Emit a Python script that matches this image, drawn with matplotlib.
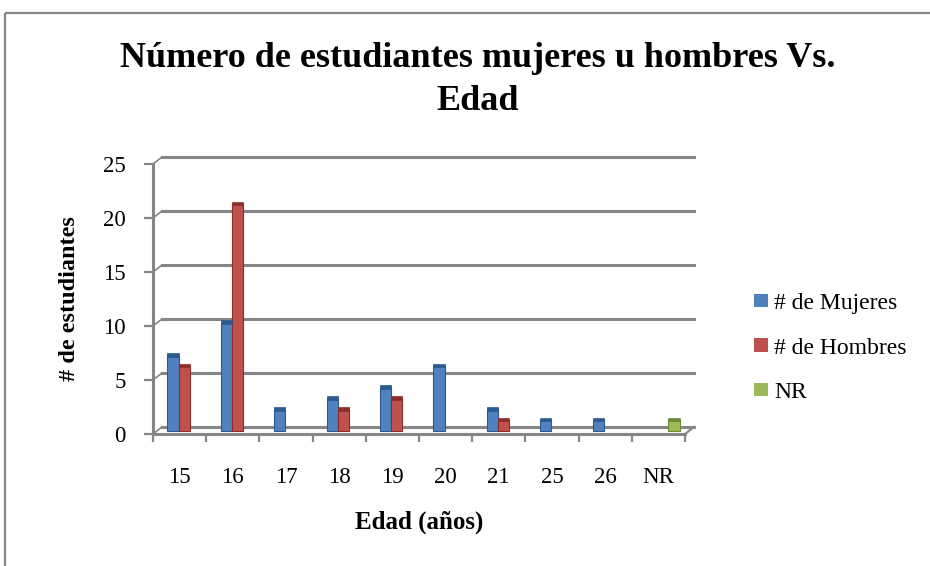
import matplotlib.pyplot as plt
from matplotlib.patches import Rectangle, Patch
import numpy as np

plt.rcParams['font.family'] = ['Liberation Serif', 'DejaVu Serif']

# datos de la encuesta
edades = ['15', '16', '17', '18', '19', '20', '21', '25', '26', 'NR']
mujeres = [7, 10, 2, 3, 4, 6, 2, 1, 1, 0]
hombres = [6, 21, 0, 2, 3, 0, 1, 0, 0, 0]
no_resp = [0, 0, 0, 0, 0, 0, 0, 0, 0, 1]

series = [('# de Mujeres', mujeres, '#4F81BD', '#2C5A8E'),
          ('# de Hombres', hombres, '#C0504D', '#8C2D2A'),
          ('NR', no_resp, '#9BBB59', '#6E8A36')]

W, H = 930, 566
fig = plt.figure(figsize=(W / 100, H / 100), dpi=100)

# marco del grafico
fig.patches.append(Rectangle((5 / W, 1 - 13 / H), 1.0, -1.0, transform=fig.transFigure,
                             fill=False, edgecolor='#868686', linewidth=1.6))

# eje frontal en pixeles: x 153..685, y 164..434
ax = fig.add_axes([153 / W, 1 - 434 / H, 532 / W, 270 / H])
ax.set_xlim(0, 10)
ax.set_ylim(0, 25)
ax.patch.set_alpha(0)
gris = '#868686'

# profundidad de la pared del fondo, en unidades de datos
dx = 9 / 532 * 10
dy = 7 / 270 * 25

for v in range(0, 26, 5):
    ax.plot([dx, 10 + dx], [v + dy, v + dy], color=gris, lw=2.2, clip_on=False, zorder=1)
    ax.plot([0, dx], [v, v + dy], color=gris, lw=1.2, clip_on=False, zorder=1)
ax.plot([10, 10 + dx], [0, dy], color=gris, lw=1.6, clip_on=False, zorder=1)

# barras a media profundidad
n = len(edades)
ancho = 0.21
x0 = np.arange(n) + (1 - 3 * ancho) / 2 + dx / 2
for k, (nombre, vals, color, oscuro) in enumerate(series):
    vals = np.array(vals)
    xs = x0 + k * ancho
    m = vals > 0
    ax.bar(xs[m], vals[m], width=ancho, bottom=dy / 2, align='edge',
           color=color, edgecolor=oscuro, linewidth=0.8, zorder=3)
    # tapa superior
    ax.bar(xs[m], np.full(m.sum(), 0.35), width=ancho, bottom=vals[m] + dy / 2 - 0.15,
           align='edge', color=oscuro, edgecolor=oscuro, linewidth=0.5, zorder=4)

for s in ['top', 'right']:
    ax.spines[s].set_visible(False)
for s in ['left', 'bottom']:
    ax.spines[s].set_color(gris)
    ax.spines[s].set_linewidth(2.2)

ax.set_yticks(range(0, 26, 5))
ax.tick_params(axis='y', length=6.5, width=1.6, color=gris, pad=13, labelsize=16.5)
ax.set_xticks(range(0, 11))
ax.set_xticklabels([])
ax.tick_params(axis='x', which='major', length=6, width=1.6, color=gris)
ax.set_xticks(np.arange(n) + 0.5, minor=True)
ax.set_xticklabels(edades, minor=True)
ax.tick_params(axis='x', which='minor', length=0, pad=24, labelsize=16.5)

ax.set_xlabel('Edad (años)', fontsize=18, fontweight='bold', labelpad=16)
ax.set_ylabel('# de estudiantes', fontsize=17.5, fontweight='bold', labelpad=17)

fig.text(478 / W, 1 - 80 / H, 'Número de estudiantes mujeres u hombres Vs.\nEdad',
         ha='center', va='center', fontsize=26, fontweight='bold', linespacing=1.4)

handles = [Patch(facecolor=c, edgecolor='none', label=nom) for nom, _, c, _ in series]
fig.legend(handles=handles, loc='center left', bbox_to_anchor=(754 / W, 1 - 348 / H),
           frameon=False, fontsize=17, borderpad=0, borderaxespad=0,
           handlelength=0.6, handleheight=0.5, handletextpad=0.25, labelspacing=1.0)

fig.savefig('out.png', dpi=100)
